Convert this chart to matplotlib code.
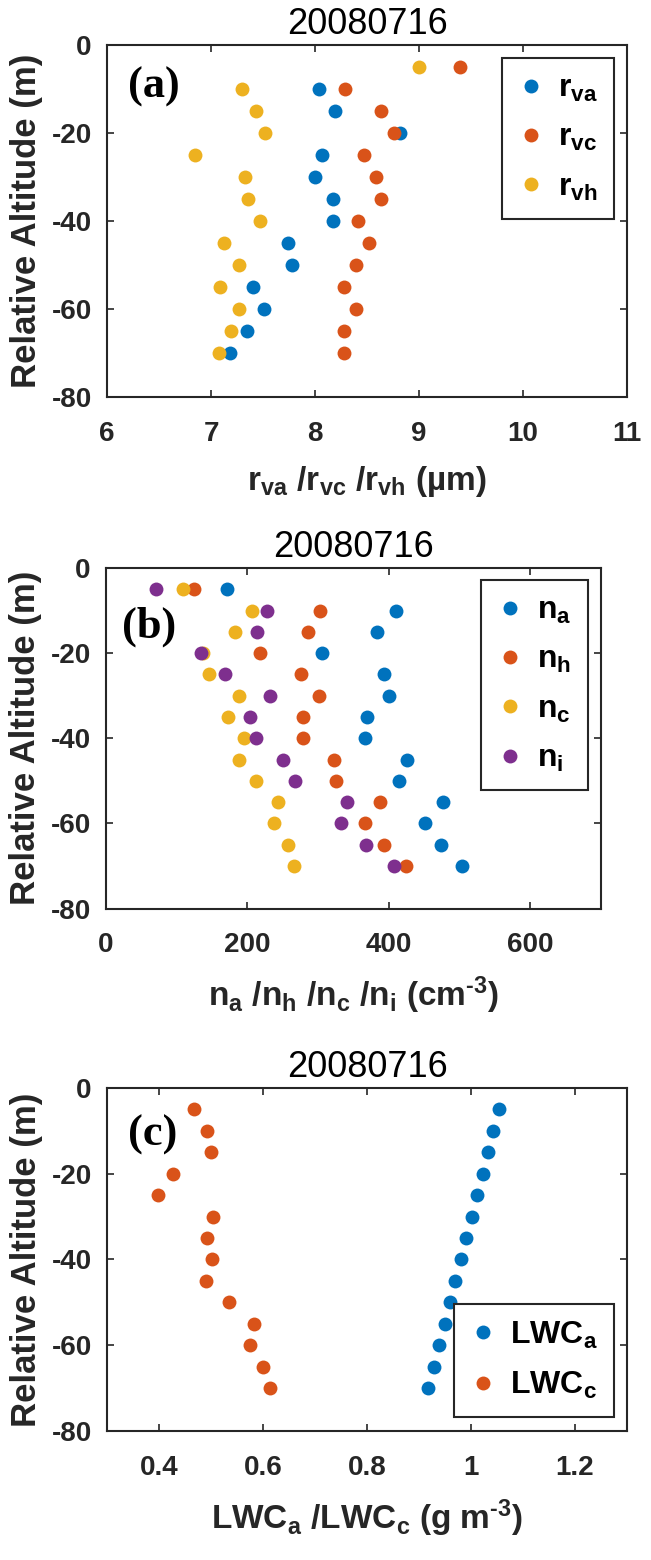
import matplotlib
matplotlib.use("Agg")
import matplotlib.pyplot as plt
import numpy as np

# relative altitude levels (m)
alt = [-5, -10, -15, -20, -25, -30, -35, -40, -45, -50, -55, -60, -65, -70]

# panel (a): effective radii (um)
r_va = [np.nan, 8.04, 8.19, 8.82, 8.07, 8.00, 8.17, 8.17, 7.74, 7.78, 7.40, 7.51, 7.35, 7.18]
r_vc = [9.39, 8.29, 8.63, 8.76, 8.47, 8.59, 8.63, 8.41, 8.52, 8.39, 8.28, 8.39, 8.28, 8.28]
r_vh = [9.00, 7.30, 7.43, 7.52, 6.85, 7.33, 7.36, 7.47, 7.12, 7.27, 7.09, 7.27, 7.19, 7.08]

# panel (b): number concentrations (cm-3)
n_a = [171, 410, 384, 305, 393, 400, 370, 366, 426, 415, 477, 451, 474, 504]
n_h = [124, 303, 286, 218, 276, 302, 279, 279, 323, 326, 388, 366, 394, 425]
n_c = [109, 207, 183, 138, 146, 188, 173, 195, 188, 212, 243, 238, 257, 266]
n_i = [71, 228, 214, 135, 168, 232, 204, 213, 251, 267, 341, 333, 368, 407]

# panel (c): liquid water content (g m-3)
lwc_a = [1.054, 1.043, 1.033, 1.023, 1.012, 1.002, 0.991, 0.981, 0.970, 0.960, 0.949, 0.938, 0.928, 0.917]
lwc_c = [0.467, 0.492, 0.499, 0.426, 0.398, 0.503, 0.492, 0.502, 0.491, 0.534, 0.583, 0.574, 0.600, 0.613]

title = "20080716"
yticks = [0, -20, -40, -60, -80]

blue, orange, yellow, purple = "#0072BD", "#D95319", "#EDB120", "#7E2F8E"
axcol = "#262626"

plt.rcParams["font.family"] = ["Liberation Sans", "DejaVu Sans"]
plt.rcParams["mathtext.fontset"] = "custom"
plt.rcParams["mathtext.rm"] = "Liberation Sans"
plt.rcParams["mathtext.bf"] = "Liberation Sans:bold"
plt.rcParams["mathtext.it"] = "Liberation Sans:italic"

fig = plt.figure(figsize=(6.51, 15.6), dpi=100)
ax_a = fig.add_axes([0.1644, 0.7452, 0.7988, 0.2260])
ax_b = fig.add_axes([0.1628, 0.4176, 0.7598, 0.2183])
ax_c = fig.add_axes([0.1644, 0.0827, 0.7988, 0.2199])


def style(ax, xlim, xticks, xticklabels, xlabel, tag, tagpos):
    ax.set_xlim(*xlim)
    ax.set_ylim(-80, 0)
    ax.set_xticks(xticks)
    ax.set_xticklabels(xticklabels)
    ax.set_yticks(yticks)
    ax.set_yticklabels([str(v) for v in yticks])
    for s in ax.spines.values():
        s.set_color(axcol)
        s.set_linewidth(1.5)
    ax.tick_params(direction="in", length=5, width=1.2, color=axcol,
                   labelcolor=axcol, labelsize=20, top=True, right=True)
    ax.tick_params(axis="x", pad=17)
    ax.tick_params(axis="y", pad=11)
    for lab in ax.get_xticklabels() + ax.get_yticklabels():
        lab.set_fontweight("bold")
    ax.set_title(title, fontsize=26, pad=8)
    ax.set_ylabel("Relative Altitude (m)", fontsize=25, fontweight="bold",
                  color=axcol, labelpad=6)
    ax.set_xlabel(xlabel, fontsize=24, fontweight="bold", color=axcol, labelpad=12)
    ax.text(tagpos[0], tagpos[1], tag, transform=ax.transAxes, ha="left", va="center",
            fontsize=32, fontweight="bold", family="Liberation Serif")


ms = 10
leg_kw = dict(fontsize=23, fancybox=False, framealpha=1, edgecolor=axcol,
              handlelength=0.8, handletextpad=0.45, borderpad=0.5, labelspacing=0.6,
              borderaxespad=0)

# (a)
ax_a.plot(r_va, alt, "o", color=blue, ms=ms, mec="none", label=r"$\mathbf{r_{va}}$")
ax_a.plot(r_vc, alt, "o", color=orange, ms=ms, mec="none", label=r"$\mathbf{r_{vc}}$")
ax_a.plot(r_vh, alt, "o", color=yellow, ms=ms, mec="none", label=r"$\mathbf{r_{vh}}$")
style(ax_a, (6, 11), [6, 7, 8, 9, 10, 11], ["6", "7", "8", "9", "10", "11"],
      r"$\mathbf{r_{va}}$ /$\mathbf{r_{vc}}$ /$\mathbf{r_{vh}}$ (µm)", "(a)", (0.040, 0.882))
lg = ax_a.legend(loc="upper right", bbox_to_anchor=(1 - 13 / 520, 1 - 13 / 352), **leg_kw)
lg.get_frame().set_linewidth(1.5)

# (b)
ax_b.plot(n_a, alt, "o", color=blue, ms=ms, mec="none", label=r"$\mathbf{n_a}$")
ax_b.plot(n_h, alt, "o", color=orange, ms=ms, mec="none", label=r"$\mathbf{n_h}$")
ax_b.plot(n_c, alt, "o", color=yellow, ms=ms, mec="none", label=r"$\mathbf{n_c}$")
ax_b.plot(n_i, alt, "o", color=purple, ms=ms, mec="none", label=r"$\mathbf{n_i}$")
style(ax_b, (0, 700), [0, 200, 400, 600], ["0", "200", "400", "600"],
      r"$\mathbf{n_a}$ /$\mathbf{n_h}$ /$\mathbf{n_c}$ /$\mathbf{n_i}$ (cm$^{\mathbf{‐3}}$)",
      "(b)", (0.032, 0.828))
lg = ax_b.legend(loc="upper right", bbox_to_anchor=(1 - 13 / 495, 1 - 12 / 341), **leg_kw)
lg.get_frame().set_linewidth(1.5)

# (c)
ax_c.plot(lwc_a, alt, "o", color=blue, ms=ms, mec="none", label=r"$\mathbf{LWC_a}$")
ax_c.plot(lwc_c, alt, "o", color=orange, ms=ms, mec="none", label=r"$\mathbf{LWC_c}$")
style(ax_c, (0.3, 1.3), [0.4, 0.6, 0.8, 1.0, 1.2], ["0.4", "0.6", "0.8", "1", "1.2"],
      r"$\mathbf{LWC_a}$ /$\mathbf{LWC_c}$ (g m$^{\mathbf{‐3}}$)", "(c)", (0.040, 0.863))
lg = ax_c.legend(loc="lower right", bbox_to_anchor=(1 - 13 / 520, 14 / 343), **leg_kw)
lg.get_frame().set_linewidth(1.5)

fig.savefig("out.png", dpi=100, facecolor="w")
